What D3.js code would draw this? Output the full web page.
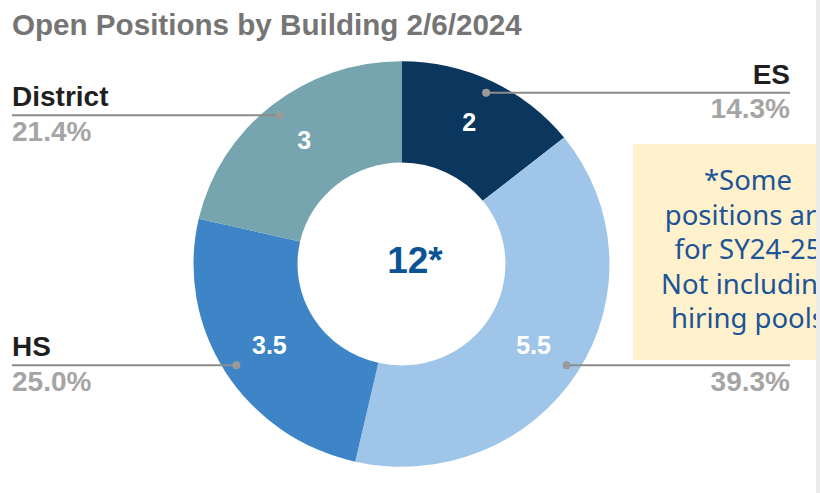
<!DOCTYPE html>
<html>
<head>
<meta charset="utf-8">
<script src="https://cdn.jsdelivr.net/npm/d3@7"></script>
<style>
  body { margin: 0; background: #fff; }
  svg { display: block; font-family: "Liberation Sans", Arial, sans-serif; }
</style>
</head>
<body>
<svg id="chart" width="820" height="493"></svg>
<script>
// data
let buildings = ["ES", "MS", "HS", "District"];
let openPositions = [2, 5.5, 3.5, 3];
let percentLabels = ["14.3%", "39.3%", "25.0%", "21.4%"];
let sliceColors = ["#0b375f", "#9fc5e8", "#3d85c6", "#76a5af"];
let centerLabel = "12*";
let noteLines = ["*Some", "positions are", "for SY24-25", "Not including", "hiring pools"];

let svg = d3.select('#chart');
let cx = 401.5, cy = 264;
let outerR = 208, innerR = 104;
let squash = 0.975; // donut is a touch flatter than wide in the picture

// title
svg.append('text')
    .attr('x', 12).attr('y', 35)
    .attr('font-size', 29.6).attr('font-weight', 'bold')
    .attr('fill', '#757575')
    .text('Open Positions by Building 2/6/2024');

let pie = d3.pie().sort(null).value(d => d);
let arcs = pie(openPositions);
let arc = d3.arc().innerRadius(innerR).outerRadius(outerR);

let g = svg.append('g')
    .attr('transform', `translate(${cx},${cy}) scale(1,${squash})`);

g.selectAll('path.slice')
    .data(arcs)
    .enter().append('path')
    .attr('class', 'slice')
    .attr('d', arc)
    .attr('fill', (d, i) => sliceColors[i]);

// values inside ring
svg.selectAll('text.val')
    .data(arcs)
    .enter().append('text')
    .attr('class', 'val')
    .attr('x', d => cx + arc.centroid(d)[0])
    .attr('y', d => cy + arc.centroid(d)[1] * squash - (d.data < 3.5 ? 5 : 0))
    .attr('dy', '0.35em')
    .attr('text-anchor', 'middle')
    .attr('font-size', 25).attr('font-weight', 'bold')
    .attr('fill', '#fff')
    .text(d => d.data);

// center total
svg.append('text')
    .attr('x', 415).attr('y', 273)
    .attr('text-anchor', 'middle')
    .attr('font-size', 37).attr('font-weight', 'bold')
    .attr('fill', '#0b5394')
    .text(centerLabel);

// leader lines + labels
let dotR = 195;
let leftX = 12, rightX = 790;
arcs.forEach((d, i) => {
    let mid = (d.startAngle + d.endAngle) / 2;
    let px = cx + dotR * Math.sin(mid);
    let py = cy - dotR * Math.cos(mid) * squash;
    let right = px > cx;
    let endX = right ? rightX : leftX;
    svg.append('line')
        .attr('x1', px).attr('y1', py)
        .attr('x2', endX).attr('y2', py)
        .attr('stroke', '#8c8c8c').attr('stroke-width', 2);
    svg.append('circle')
        .attr('cx', px).attr('cy', py).attr('r', 4)
        .attr('fill', '#9a9a9a');
    let anchor = right ? 'end' : 'start';
    svg.append('text')
        .attr('x', endX).attr('y', py - 9)
        .attr('text-anchor', anchor)
        .attr('font-size', 28).attr('font-weight', 'bold')
        .attr('fill', '#1f1f1f')
        .text(buildings[i]);
    svg.append('text')
        .attr('x', endX).attr('y', py + 25.5)
        .attr('text-anchor', anchor)
        .attr('font-size', 28).attr('font-weight', 'bold')
        .attr('fill', '#a5a5a5')
        .text(percentLabels[i]);
});

// note box (cut off by the right edge)
svg.append('clipPath').attr('id', 'noteClip')
    .append('rect').attr('x', 633).attr('y', 144).attr('width', 183).attr('height', 216);
svg.append('rect')
    .attr('x', 633).attr('y', 144).attr('width', 183).attr('height', 216)
    .attr('fill', '#fef1cc');
svg.append('g').attr('clip-path', 'url(#noteClip)')
    .selectAll('text')
    .data(noteLines)
    .enter().append('text')
    .attr('x', 748)
    .attr('y', (d, i) => 190 + i * 34.5)
    .attr('text-anchor', 'middle')
    .attr('font-family', '"Noto Sans", sans-serif')
    .attr('font-size', 27.5)
    .attr('fill', '#1c5497')
    .text(d => d);

// light strip at the right edge
svg.append('rect')
    .attr('x', 816).attr('y', 0).attr('width', 4).attr('height', 493)
    .attr('fill', '#ececec');
</script>
</body>
</html>
